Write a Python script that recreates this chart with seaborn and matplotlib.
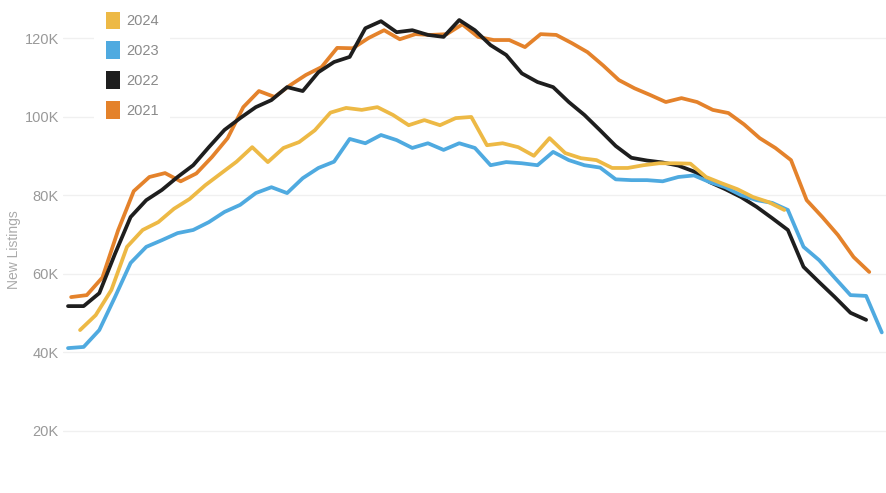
import pandas as pd
import seaborn as sns
import matplotlib.pyplot as plt
from matplotlib.patches import Patch
from matplotlib.ticker import FuncFormatter

# weekly new listings, thousands
y2021 = [54, 54.5, 59, 71, 81, 84.6, 85.6, 83.5, 85.5, 89.7,
         94.5, 102.4, 106.5, 105, 108, 110.6, 112.6, 117.5, 117.4, 120,
         122, 119.7, 121, 120.8, 121, 123.5, 120.3, 119.5, 119.5, 117.7,
         121, 120.8, 118.7, 116.4, 113, 109.3, 107.2, 105.5, 103.7, 104.7,
         103.7, 101.7, 100.9, 98, 94.5, 92, 88.9, 78.7, 74.4, 69.8,
         64.2, 60.4]
y2022 = [51.7, 51.7, 55, 65, 74.4, 78.7, 81.3, 84.6, 87.6, 92.2,
         96.6, 99.6, 102.4, 104.2, 107.5, 106.5, 111.3, 113.9, 115.2, 122.5,
         124.3, 121.5, 122, 120.8, 120.3, 124.6, 122, 118.2, 115.7, 111,
         108.8, 107.5, 103.7, 100.4, 96.5, 92.5, 89.5, 88.8, 88.3, 87.5,
         86, 83.3, 81.5, 79.5, 77, 74.1, 71.1, 61.7, 57.8, 54,
         50, 48.2]
y2023 = [41, 41.3, 45.6, 54, 62.7, 66.8, 68.5, 70.3, 71.1, 73.1,
         75.7, 77.5, 80.5, 82, 80.5, 84.3, 86.9, 88.5, 94.3, 93.2,
         95.3, 94, 92, 93.2, 91.5, 93.2, 92, 87.6, 88.4, 88.1,
         87.6, 91, 88.9, 87.6, 87, 84, 83.8, 83.8, 83.5, 84.6,
         85, 83.3, 82, 80, 78.7, 78, 76.2, 66.8, 63.4, 58.9,
         54.5, 54.3, 45]
y2024 = [45.6, 49.4, 55.8, 66.8, 71.1, 73.1, 76.5, 79, 82.5, 85.5,
         88.5, 92.2, 88.4, 92, 93.5, 96.5, 101, 102.2, 101.7, 102.4,
         100.4, 97.8, 99.1, 97.8, 99.6, 99.9, 92.7, 93.2, 92.2, 90,
         94.5, 90.7, 89.4, 88.9, 86.9, 86.9, 87.6, 88.1, 88.1, 88,
         84.6, 83, 81.5, 79.5, 78.2, 76.2]

years = ['2021', '2022', '2023', '2024']
colors = {'2024': '#EDB945', '2023': '#4FAAE0', '2022': '#1E1E1E', '2021': '#E4822B'}
series = {'2021': y2021, '2022': y2022, '2023': y2023, '2024': y2024}
# calendar offset of each year's weeks
week_shift = {'2021': 0.2, '2022': 0.0, '2023': 0.0, '2024': 0.77}

rows = []
for yr in years:
    for i, v in enumerate(series[yr]):
        rows.append({'week': i + 1 + week_shift[yr], 'listings': v, 'year': yr})
df = pd.DataFrame(rows)

sns.set_style('white')
plt.rcParams['font.family'] = ['Liberation Sans', 'DejaVu Sans']

fig = plt.figure(figsize=(8.86, 4.93), dpi=100)
ax = fig.add_axes([63 / 886, -27 / 493, 823 / 886, 520 / 493])

sns.lineplot(data=df, x='week', y='listings', hue='year', hue_order=years,
             palette=colors, linewidth=2.7, ax=ax, legend=False)

ax.set_xlim(0.68, 53.27)
ax.set_ylim(-2.8, 129.7)
ax.set_yticks([0, 20, 40, 60, 80, 100, 120])
ax.yaxis.set_major_formatter(FuncFormatter(lambda v, p: f'{v:.0f}K'))
ax.set_xticks([])
ax.set_xlabel('')
ax.grid(axis='y', color='#f0f0f0', linewidth=1)
ax.tick_params(axis='y', length=0, pad=3, labelsize=10.5, labelcolor='#999999')
for s in ax.spines.values():
    s.set_visible(False)

ax.set_ylabel('New Listings', color='#aaaaaa', fontsize=10)
ax.yaxis.set_label_coords(-0.051, 0.52)

handles = [Patch(facecolor=colors[y], edgecolor='none', label=y) for y in ['2024', '2023', '2022', '2021']]
leg = ax.legend(handles=handles, loc='upper left', bbox_to_anchor=(94 / 886, 1.0),
                bbox_transform=fig.transFigure, frameon=True, fontsize=10.5,
                handlelength=0.95, handleheight=1.5, handletextpad=0.45,
                labelspacing=0.82, borderpad=0.8, borderaxespad=0)
leg.get_frame().set_facecolor('white')
leg.get_frame().set_edgecolor('none')
leg.get_frame().set_alpha(1)
for t in leg.get_texts():
    t.set_color('#8a8a8a')

fig.savefig('out.png', dpi=100)
